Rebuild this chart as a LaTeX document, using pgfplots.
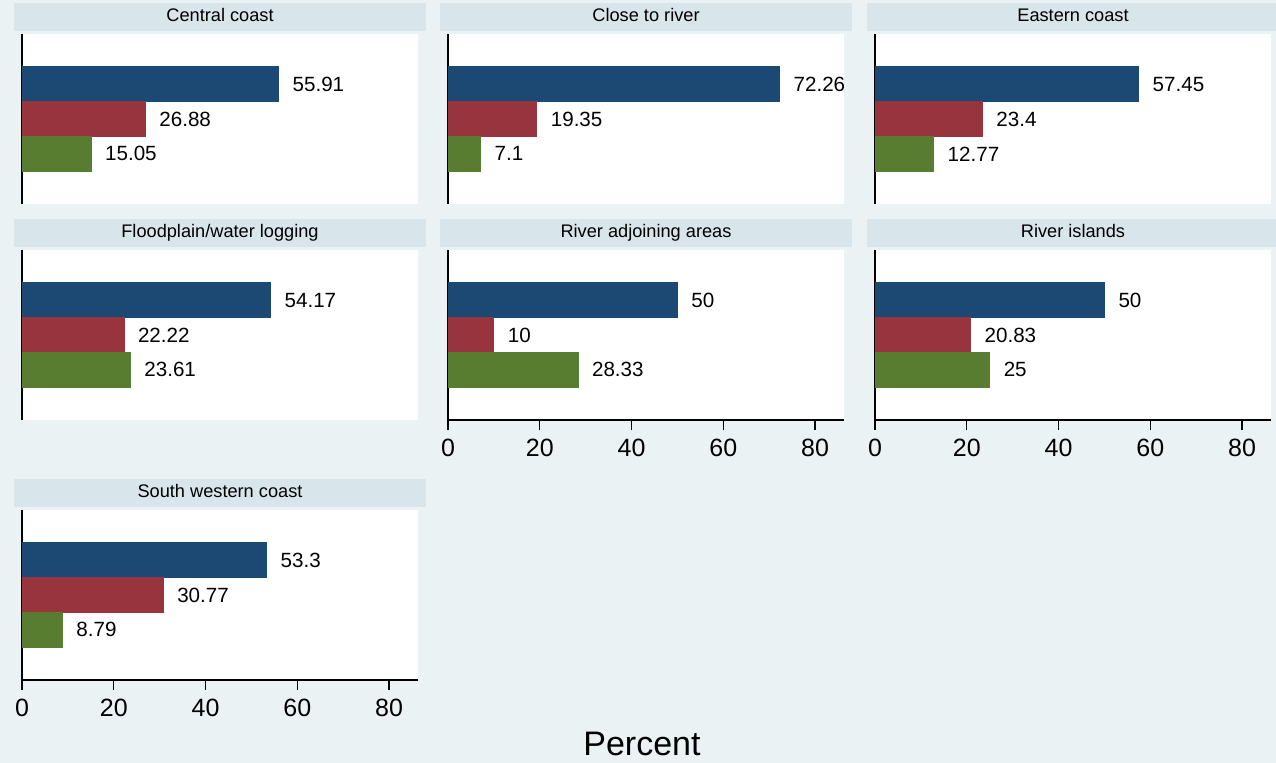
\documentclass[border=0pt]{standalone}
\usepackage{pgfplots}
\pgfplotsset{compat=1.18}
\usepackage{fontspec}
\setmainfont{Liberation Sans}
\definecolor{bg}{RGB}{234,242,244}
\definecolor{stripc}{RGB}{216,229,235}
\definecolor{cblue}{RGB}{28,72,116}
\definecolor{cred}{RGB}{152,52,62}
\definecolor{cgreen}{RGB}{88,124,48}
\pgfplotsset{
  panel/.style={
    scale only axis, width=198pt, height=85pt,
    xmin=0, xmax=86.3, ymin=-0.44, ymax=4.44,
    axis background/.style={fill=white},
    axis lines*=left,
    axis line style={-, line width=0.6pt, black},
    xbar, bar width=1, bar shift=0pt,
    ytick=\empty,
    clip=false,
    /pgf/number format/assume math mode=true,
    tick label style={font=\fontsize{12.5}{13}\selectfont},
    xticklabel style={yshift=-1pt},
    xtick={0,20,40,60,80},
    tick align=outside, major tick length=5pt,
    major tick style={line width=0.6pt, black},
    nodes near coords,
    every node near coord/.append style={anchor=west, xshift=3.5pt, text=black, font=\fontsize{10.3}{11}\selectfont},
    title style={at={(0.5,1)}, anchor=south, yshift=-4.5pt, fill=stripc, minimum width=206pt, minimum height=14pt, text height=7pt, text depth=2pt, inner sep=0pt, font=\fontsize{9.1}{10}\selectfont},
  },
  noxaxis/.style={xtick=\empty, x axis line style={draw=none}},
  b1/.style={fill=cblue, draw=cblue},
  b2/.style={fill=cred, draw=cred},
  b3/.style={fill=cgreen, draw=cgreen},
}
\begin{document}
\begin{tikzpicture}
\useasboundingbox (0,0) rectangle (638pt,381.5pt);
\fill[bg] (0,0) rectangle (638pt,381.5pt);

% Row 1
\begin{axis}[panel, noxaxis, at={(11pt,279.5pt)}, anchor=south west, title={Central coast}]
\addplot[b1] coordinates {(55.91,3)};
\addplot[b2] coordinates {(26.88,2)};
\addplot[b3] coordinates {(15.05,1)};
\end{axis}
\begin{axis}[panel, noxaxis, at={(224pt,279.5pt)}, anchor=south west, title={Close to river}]
\addplot[b1] coordinates {(72.26,3)};
\addplot[b2] coordinates {(19.35,2)};
\addplot[b3] coordinates {(7.1,1)};
\end{axis}
\begin{axis}[panel, noxaxis, at={(437.5pt,279.5pt)}, anchor=south west, title={Eastern coast}]
\addplot[b1] coordinates {(57.45,3)};
\addplot[b2] coordinates {(23.4,2)};
\addplot[b3] coordinates {(12.77,1)};
\end{axis}

% Row 2
\begin{axis}[panel, noxaxis, at={(11pt,171.5pt)}, anchor=south west, title={Floodplain/water logging}]
\addplot[b1] coordinates {(54.17,3)};
\addplot[b2] coordinates {(22.22,2)};
\addplot[b3] coordinates {(23.61,1)};
\end{axis}
\begin{axis}[panel, at={(224pt,171.5pt)}, anchor=south west, title={River adjoining areas}]
\addplot[b1] coordinates {(50,3)};
\addplot[b2] coordinates {(10,2)};
\addplot[b3] coordinates {(28.33,1)};
\end{axis}
\begin{axis}[panel, at={(437.5pt,171.5pt)}, anchor=south west, title={River islands}]
\addplot[b1] coordinates {(50,3)};
\addplot[b2] coordinates {(20.83,2)};
\addplot[b3] coordinates {(25,1)};
\end{axis}

% Row 3
\begin{axis}[panel, at={(11pt,41.5pt)}, anchor=south west, title={South western coast}]
\addplot[b1] coordinates {(53.3,3)};
\addplot[b2] coordinates {(30.77,2)};
\addplot[b3] coordinates {(8.79,1)};
\end{axis}

\node[font=\fontsize{17}{19}\selectfont] at (321pt,9.5pt) {Percent};
\end{tikzpicture}
\end{document}
